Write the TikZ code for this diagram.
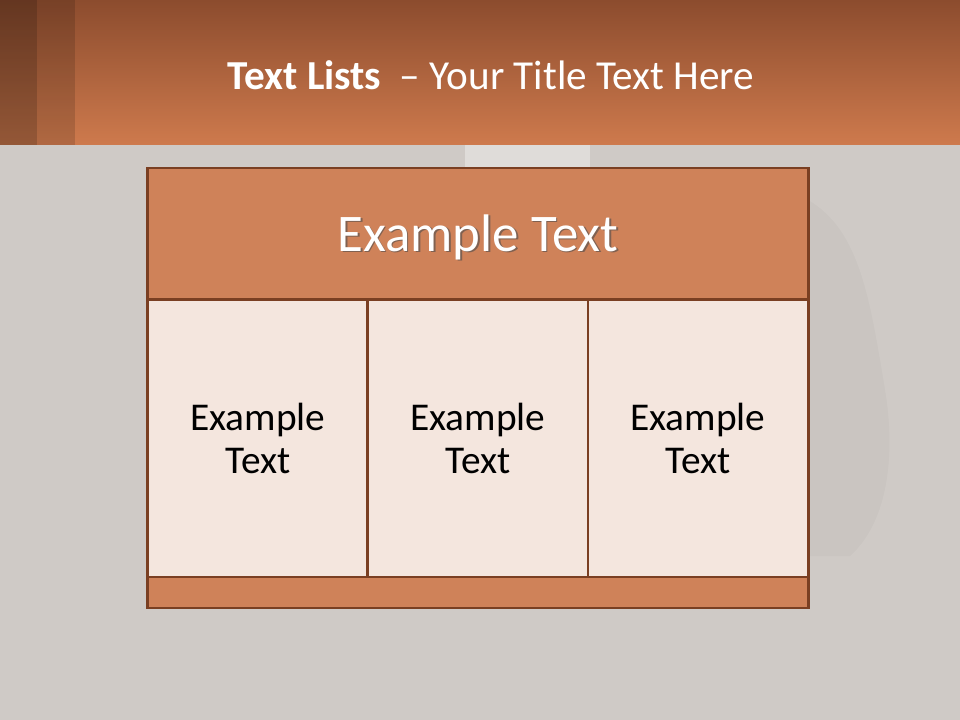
\documentclass[tikz,border=0pt]{standalone}
\usepackage{fontspec}
\setmainfont{Carlito}
\usepackage{tikz}
\usetikzlibrary{
  calc,
  positioning,
  shapes
}
\definecolor{slidegray}{HTML}{CFCAC6}
\definecolor{headtop}{HTML}{8C4C2E}
\definecolor{headbot}{HTML}{CE7A4D}
\definecolor{boxline}{HTML}{7A3F22}
\definecolor{boxhead}{HTML}{CF8259}
\definecolor{boxcell}{HTML}{F4E6DE}

\begin{document}
\begin{tikzpicture}[x=0.025cm,y=-0.025cm,
    cellbox/.style={draw=boxline,line width=2.1pt,fill=boxcell,minimum width=5.5cm,minimum height=6.925cm,align=center,font=\fontsize{28}{31}\selectfont},
    bandbox/.style={draw=boxline,line width=2.1pt,fill=boxhead,minimum width=16.5cm}]
                  \useasboundingbox (0,0) rectangle (960,720);
                  \fill[slidegray] (0,0) rectangle (960,720);
                  \fill[white,opacity=0.35] (465,145) rectangle (590,168);
                  \fill[black,opacity=0.025] (808,200) .. controls (860,230) and (870,300) .. (885,390) .. controls (895,450) and (890,520) .. (850,556) -- (808,556) -- cycle;
                  \shade[top color=headtop,bottom color=headbot] (0,0) rectangle (960,145);
                  \fill[black,opacity=0.28] (0,0) rectangle (37,145);
                  \fill[black,opacity=0.14] (37,0) rectangle (75,145);

                  \node[text=white,font=\fontsize{29.3}{32}\selectfont] (title) at (491,75) {\textbf{Text Lists}\hspace{0.45em}– Your Title Text Here};

                  \node[bandbox,minimum height=3.3cm] (head) at (478,234) {};
                  \node[text=black!70,opacity=0.6,font=\fontsize{37.6}{41}\selectfont] at ($(head.center)+(1.5,4.5)$) {Example Text};
                  \node[text=white,font=\fontsize{37.6}{41}\selectfont] (headtext) at ($(head.center)+(0,3)$) {Example Text};

                  \node[cellbox] (cellA) at (258,438.5) {Example\\Text};
                  \node[cellbox] (cellB) at (478,438.5) {Example\\Text};
                  \node[cellbox] (cellC) at (698,438.5) {Example\\Text};

                  \node[bandbox,minimum height=0.775cm] (foot) at (478,592.5) {};
                \end{tikzpicture}
\end{document}
